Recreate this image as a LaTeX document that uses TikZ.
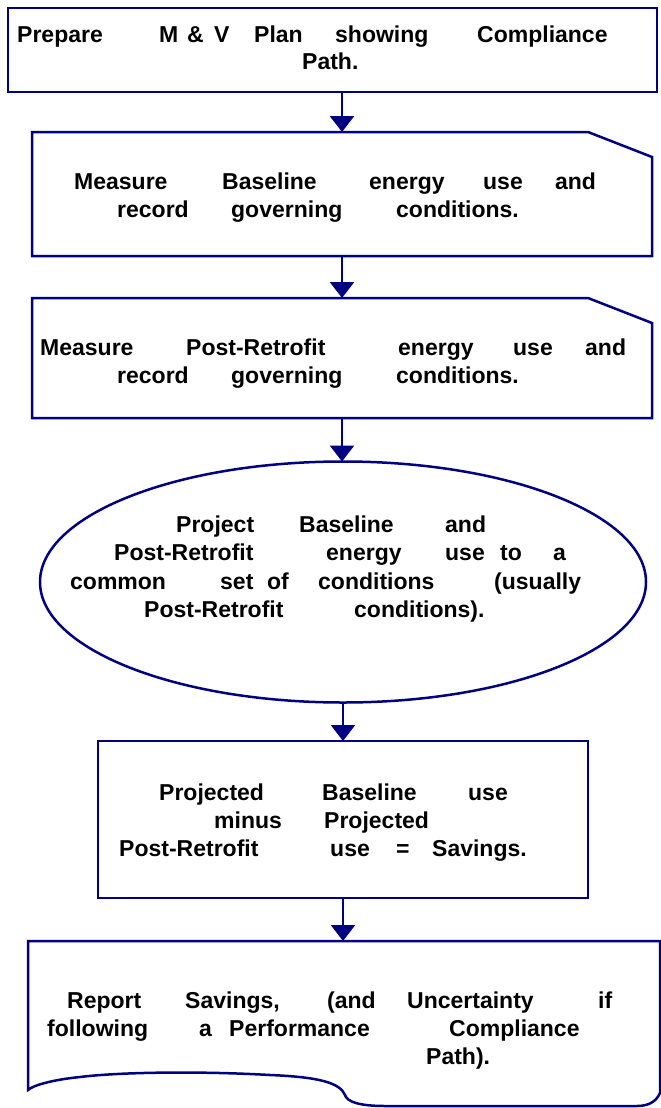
\documentclass[tikz,border=0pt]{standalone}
\usepackage{fontspec}
\setmainfont{Liberation Sans}
\usetikzlibrary{arrows.meta,shapes.geometric}
\definecolor{navy}{RGB}{0,0,128}
\newcommand\wrd[2]{\rlap{\hspace*{#1pt}#2}}
\newcommand\lne[2]{\makebox[#1pt][l]{#2}}
\begin{document}
\begin{tikzpicture}[x=1pt,y=-1pt,line join=miter,
  shp/.style={draw=navy,line width=2.5pt,fill=white},
  frame/.style={inner sep=0pt,outer sep=0pt,rectangle},
  txt/.style={inner sep=0pt,anchor=base west,font=\fontsize{23}{28}\selectfont\bfseries},
  arr/.style={draw=navy,line width=2.5pt,-{Triangle[width=24pt,length=16pt]}}]
\useasboundingbox (0,0) rectangle (661,1108);
\fill[white] (0,0) rectangle (661,1108);

% box 1
\node[shp,frame,minimum width=649pt,minimum height=84pt] (b1) at (332.5,50) {};
% box 2 (card)
\node[frame,minimum width=620pt,minimum height=124pt] (b2) at (342,194) {};
\draw[shp] (b2.north west) -- ([xshift=-64pt]b2.north east) -- ([yshift=-25pt]b2.north east)
  -- (b2.south east) -- (b2.south west) -- cycle;
% box 3 (card)
\node[frame,minimum width=620pt,minimum height=120pt] (b3) at (342,358) {};
\draw[shp] (b3.north west) -- ([xshift=-64pt]b3.north east) -- ([yshift=-25pt]b3.north east)
  -- (b3.south east) -- (b3.south west) -- cycle;
% ellipse
\node[shp,ellipse,inner sep=0pt,outer sep=0pt,minimum width=606pt,minimum height=241pt] (b4) at (343,582) {};
% box 5
\node[shp,frame,minimum width=490pt,minimum height=157pt] (b5) at (343,819.5) {};
% box 6 (document)
\node[frame,minimum width=632pt,minimum height=149pt] (b6) at (344,1015.5) {};
\draw[shp] (b6.south west) -- (b6.north west) -- (b6.north east) -- (660,1093)
  .. controls (656,1102) and (648,1106) .. (637,1106) -- (385,1106)
  .. controls (360,1106) and (347,1102) .. (345,1095)
  .. controls (340,1083) and (320,1077) .. (270,1075)
  .. controls (200,1071) and (120,1072) .. (80,1077)
  .. controls (50,1080) and (32,1086) .. (b6.south west) -- cycle;

% connectors
\draw[arr] (b2.north |- b1.south) -- (b2.north);
\draw[arr] (b2.south) -- (b3.north);
\draw[arr] (b3.south) -- (b3.south |- b4.north);
\draw[arr] (b4.south) -- (b5.north);
\draw[arr] (b5.south) -- (b5.south |- b6.north);

% texts box 1
\node[txt] (t11) at (17,43) {\lne{593}{\wrd{0}{Prepare}\wrd{142}{M}\wrd{170}{\&}\wrd{197}{V}\wrd{237}{Plan}\wrd{318}{showing}\wrd{460}{Compliance}}};
\node[txt] (t12) at (302,70) {Path.};
% box 2
\node[txt] (t21) at (74,189) {\lne{519}{\wrd{0}{Measure}\wrd{148}{Baseline}\wrd{295}{energy}\wrd{409}{use}\wrd{481}{and}}};
\node[txt] (t22) at (117,217) {\lne{400}{\wrd{0}{record}\wrd{114}{governing}\wrd{279}{conditions.}}};
% box 3
\node[txt] (t31) at (40,355) {\lne{583}{\wrd{0}{Measure}\wrd{146}{Post-Retrofit}\wrd{358}{energy}\wrd{473}{use}\wrd{545}{and}}};
\node[txt] (t32) at (117,383) {\lne{400}{\wrd{0}{record}\wrd{114}{governing}\wrd{279}{conditions.}}};
% ellipse
\node[txt] (t41) at (176,532) {\lne{307}{\wrd{0}{Project}\wrd{123}{Baseline}\wrd{269}{and}}};
\node[txt] (t42) at (114,560) {\lne{450}{\wrd{0}{Post-Retrofit}\wrd{212}{energy}\wrd{331}{use}\wrd{386}{to}\wrd{439}{a}}};
\node[txt] (t43) at (70,589) {\lne{508}{\wrd{0}{common}\wrd{150}{set}\wrd{197}{of}\wrd{248}{conditions}\wrd{424}{(usually}}};
\node[txt] (t44) at (144,617) {\lne{339}{\wrd{0}{Post-Retrofit}\wrd{210}{conditions).}}};
% box 5
\node[txt] (t51) at (159,800) {\lne{347}{\wrd{0}{Projected}\wrd{163}{Baseline}\wrd{309}{use}}};
\node[txt] (t52) at (214,828) {\lne{214}{\wrd{0}{minus}\wrd{110}{Projected}}};
\node[txt] (t53) at (119,856) {\lne{409}{\wrd{0}{Post-Retrofit}\wrd{211}{use}\wrd{277}{=}\wrd{313}{Savings.}}};
% box 6
\node[txt] (t61) at (67,1008) {\lne{544}{\wrd{0}{Report}\wrd{118}{Savings,}\wrd{260}{(and}\wrd{340}{Uncertainty}\wrd{531}{if}}};
\node[txt] (t62) at (47,1036) {\lne{529}{\wrd{0}{following}\wrd{152}{a}\wrd{182}{Performance}\wrd{402}{Compliance}}};
\node[txt] (t63) at (426,1064) {Path).};
\end{tikzpicture}
\end{document}
